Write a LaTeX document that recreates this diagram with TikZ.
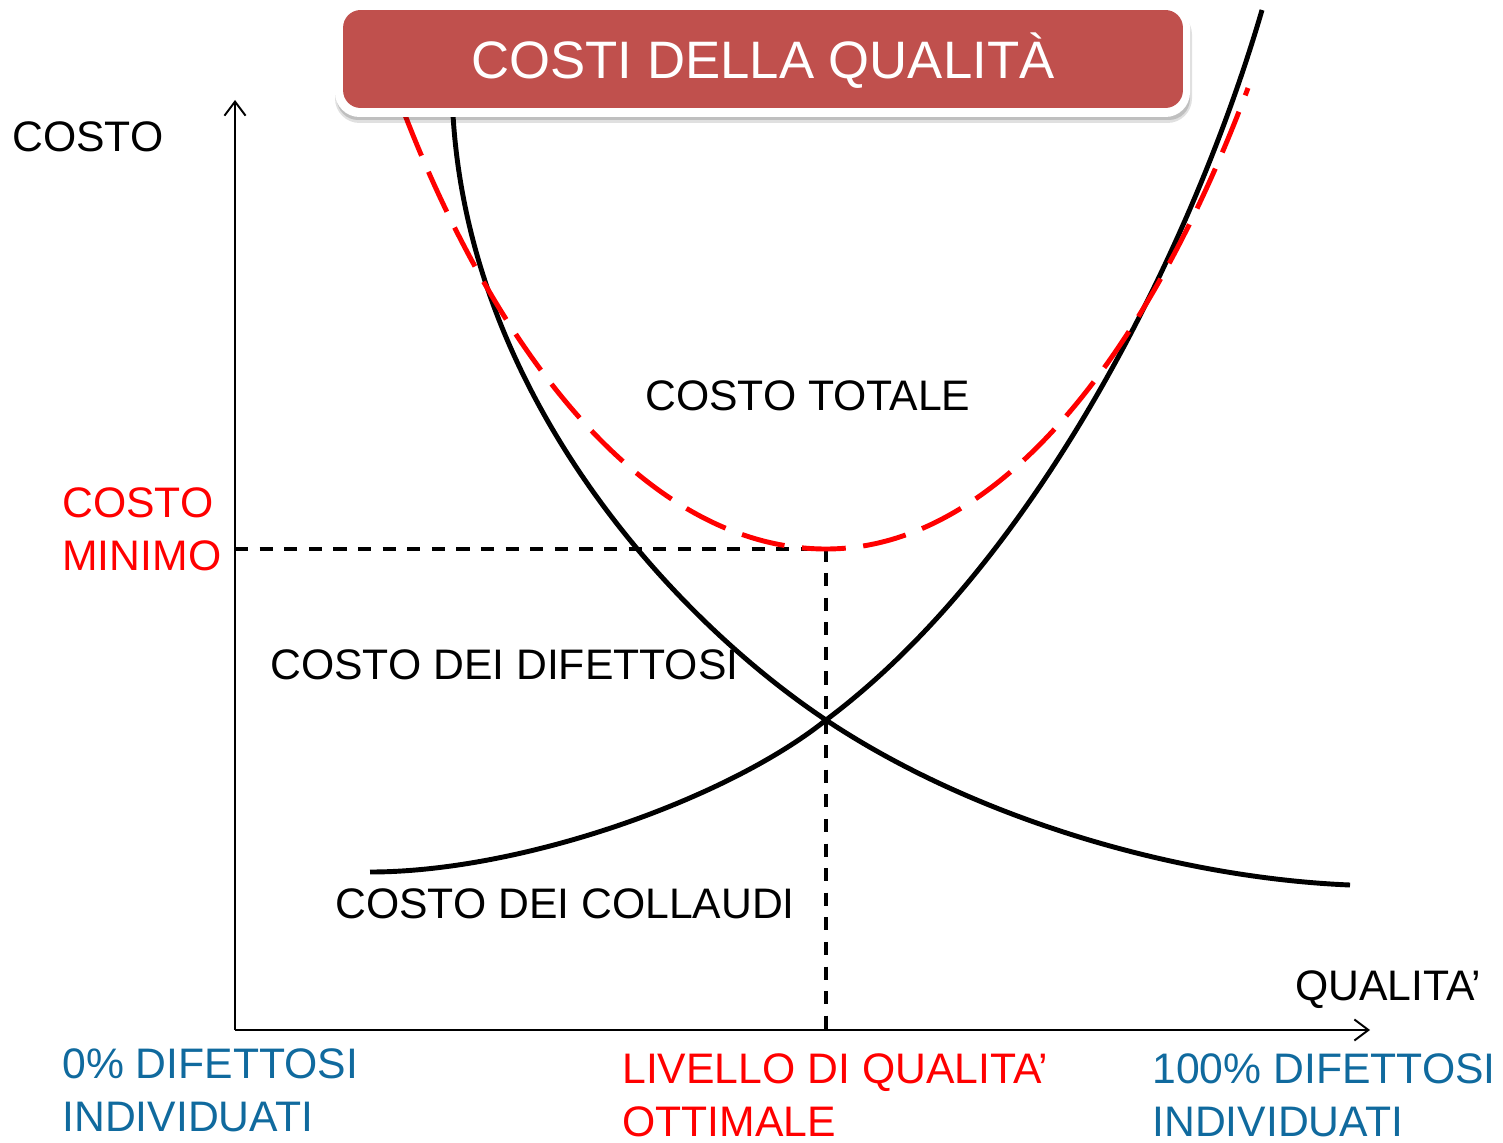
\documentclass[tikz,border=0pt]{standalone}
\usepackage{fontspec}
\setmainfont{Liberation Sans}
\usetikzlibrary{arrows.meta}
\definecolor{titlered}{RGB}{192,80,77}
\definecolor{labelblue}{RGB}{16,106,158}
\begin{document}
\begin{tikzpicture}[x=0.02cm,y=-0.02cm,
  lbl/.style={inner sep=0pt,anchor=base west,font=\fontsize{24.3}{30}\selectfont,align=left},
  axisline/.style={line width=1.1pt,-{Straight Barb[length=8pt,width=12pt,line width=1.1pt]}},
  curveline/.style={line width=2.8pt,black},
  totalline/.style={line width=2.8pt,red,dash pattern=on 25pt off 10pt},
  guideline/.style={line width=1.8pt,dash pattern=on 7.5pt off 6.5pt}]
\useasboundingbox (0,0) rectangle (1503,1142);
% axes
\coordinate (o) at (235,1030);
\coordinate (ytop) at (235,100);
\coordinate (xend) at (1370,1030);
\draw[axisline] (o) -- (ytop);
\draw[axisline] (o) -- (xend);
% guide lines
\coordinate (yminc) at (235,549);
\coordinate (cmin) at (826,549);
\coordinate (xopt) at (826,1030);
\draw[guideline] (yminc) -- (cmin) -- (xopt);
% key points
\coordinate (cross) at (826,720);
\coordinate (dstart) at (453,115);
\coordinate (dend) at (1350,885);
\coordinate (istart) at (370,872);
\coordinate (iend) at (1262,10);
\coordinate (tstart) at (405,115);
\coordinate (tend) at (1248,88);
% defects cost (decreasing)
\draw[curveline] (dstart) .. controls (470,400) and (676,620) .. (cross)
  .. controls (976,820) and (1180,878) .. (dend);
% inspection cost (increasing)
\draw[curveline] (istart) .. controls (520,872) and (726,800) .. (cross)
  .. controls (1040,560) and (1195,240) .. (iend);
% total cost
\draw[totalline] (tstart) .. controls (500,360) and (650,549) .. (cmin)
  .. controls (1000,549) and (1150,350) .. (tend);
% labels
\node[lbl] (lcosto) at (12,152) {COSTO};
\node[lbl] (ltot) at (645,410) {COSTO TOTALE};
\node[lbl,text=red] (lmin) at (62,570) {COSTO\\MINIMO};
\node[lbl] (ldif) at (270,679) {COSTO DEI DIFETTOSI};
\node[lbl] (lcol) at (335,918) {COSTO DEI COLLAUDI};
\node[lbl] (lqual) at (1295,1000) {QUALITA’};
\node[lbl,text=labelblue] (lzero) at (62,1131) {0\% DIFETTOSI\\INDIVIDUATI};
\node[lbl,text=red] (lopt) at (622,1136) {LIVELLO DI QUALITA’\\OTTIMALE};
\node[lbl,text=labelblue] (lcento) at (1152,1136) {100\% DIFETTOSI\\INDIVIDUATI};
% title box
\fill[black,opacity=0.12,rounded corners=14] (335,10) rectangle (1192,123);
\fill[black,opacity=0.15,rounded corners=12] (337,10) rectangle (1190,120);
\fill[white,rounded corners=14] (335,3) rectangle (1190,117);
\node[fill=titlered,rounded corners=10,minimum width=16.8cm,minimum height=1.96cm,inner sep=0pt] (tbox) at (763,59) {};
\node[inner sep=0pt,anchor=base,text=white,font=\fontsize{30}{36}\selectfont] (ttext) at (763,79) {COSTI DELLA QUALITÀ};
\end{tikzpicture}
\end{document}
